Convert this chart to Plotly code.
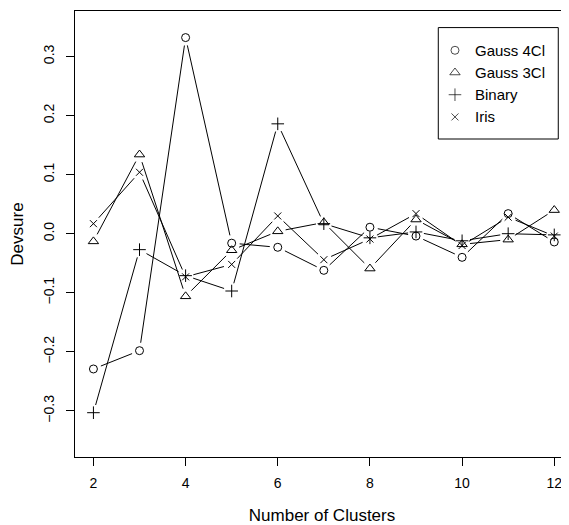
import plotly.graph_objects as go
import numpy as np

clusters = [2, 3, 4, 5, 6, 7, 8, 9, 10, 11, 12]
gauss4 = [-0.229, -0.198, 0.332, -0.016, -0.023, -0.062, 0.011, -0.004, -0.040, 0.034, -0.014]
gauss3 = [-0.013, 0.134, -0.106, -0.028, 0.004, 0.019, -0.059, 0.024, -0.018, -0.010, 0.040]
binary = [-0.303, -0.027, -0.071, -0.097, 0.186, 0.017, -0.007, 0.003, -0.012, 0.000, -0.002]
iris = [0.017, 0.104, -0.073, -0.052, 0.030, -0.044, -0.009, 0.034, -0.020, 0.028, -0.004]

series = [("Gauss 4Cl", gauss4, "circle-open", 8),
          ("Gauss 3Cl", gauss3, "triangle-up-open", 9),
          ("Binary", binary, "cross-thin-open", 9),
          ("Iris", iris, "x-thin-open", 7)]

# page body has an 8px margin: figure sits at (8, 8) in the window
W, H = 561, 517
ML, MR, MT, MB = 67, 0, 3, 68
XR = [1.6, 12.32]
YR = [-0.378, 0.377]
pw = W - ML - MR
ph = H - MT - MB
sx = pw / (XR[1] - XR[0])
sy = ph / (YR[1] - YR[0])
GAP = 8.0

def gapped(xs, ys):
    ox, oy = [], []
    for i in range(len(xs) - 1):
        x0, y0 = xs[i] * sx, ys[i] * sy
        x1, y1 = xs[i + 1] * sx, ys[i + 1] * sy
        d = np.hypot(x1 - x0, y1 - y0)
        if d <= 2 * GAP:
            continue
        ux, uy = (x1 - x0) / d, (y1 - y0) / d
        ox += [(x0 + ux * GAP) / sx, (x1 - ux * GAP) / sx, None]
        oy += [(y0 + uy * GAP) / sy, (y1 - uy * GAP) / sy, None]
    return ox, oy

fig = go.Figure()
for name, vals, sym, size in series:
    lx, ly = gapped(clusters, vals)
    fig.add_trace(go.Scatter(x=lx, y=ly, mode="lines", line=dict(color="black", width=1),
                             showlegend=False, hoverinfo="skip"))
for name, vals, sym, size in series:
    fig.add_trace(go.Scatter(x=clusters, y=vals, mode="markers", name=name, showlegend=False,
                             marker=dict(symbol=sym, size=size, color="black",
                                         line=dict(color="black", width=1))))

# custom legend (paper-fraction layout positions)
LEG_BOX = (0.7354, 0.713, 0.9783, 0.9628)
LEG_SYM_X = 0.7692
LEG_TXT_X = 0.8051
LEG_ROW_Y = [0.9119, 0.8621, 0.8123, 0.7625]

fig.add_shape(type="rect", xref="paper", yref="paper",
              x0=LEG_BOX[0], y0=LEG_BOX[1], x1=LEG_BOX[2], y1=LEG_BOX[3],
              line=dict(color="black", width=1), fillcolor="white", layer="below")
fig.add_trace(go.Scatter(x=[LEG_SYM_X] * len(series), y=LEG_ROW_Y, mode="markers",
                         xaxis="x2", yaxis="y2", showlegend=False, hoverinfo="skip",
                         marker=dict(symbol=[s[2] for s in series], size=[s[3] for s in series],
                                     color="black", line=dict(color="black", width=1))))
lfont = dict(family="Liberation Sans, Arial, sans-serif", size=15, color="black")
for (name, _, _, _), yy in zip(series, LEG_ROW_Y):
    fig.add_annotation(x=LEG_TXT_X, y=yy, xref="paper", yref="paper", text=name,
                       showarrow=False, xanchor="left", yanchor="middle", font=lfont)

font = dict(family="Liberation Sans, Arial, sans-serif", size=14, color="black")
fig.update_layout(
    width=W, height=H,
    margin=dict(l=ML, r=MR, t=MT, b=MB),
    plot_bgcolor="white", paper_bgcolor="white",
    font=font,
    showlegend=False,
    xaxis=dict(range=XR, tickvals=[2, 4, 6, 8, 10, 12], ticks="outside", ticklen=8,
               tickcolor="black", showline=True, linecolor="black", linewidth=1,
               mirror=True, showgrid=False, zeroline=False, ticklabelstandoff=5,
               title=dict(text="Number of Clusters", standoff=20), tickfont=font),
    yaxis=dict(range=YR, tickvals=[-0.3, -0.2, -0.1, 0.0, 0.1, 0.2, 0.3],
               ticktext=["\u22120.3", "\u22120.2", "\u22120.1", "0.0", "0.1", "0.2", "0.3"],
               tickangle=-90, ticks="outside", ticklen=8, tickcolor="black",
               showline=True, linecolor="black", linewidth=1, mirror=False,
               showgrid=False, zeroline=False, ticklabelstandoff=6,
               title=dict(text="Devsure", standoff=23), tickfont=font),
    xaxis2=dict(overlaying="x", range=[0, 1], visible=False, fixedrange=True),
    yaxis2=dict(overlaying="y", range=[0, 1], visible=False, fixedrange=True),
)
fig.write_html("out.html")
